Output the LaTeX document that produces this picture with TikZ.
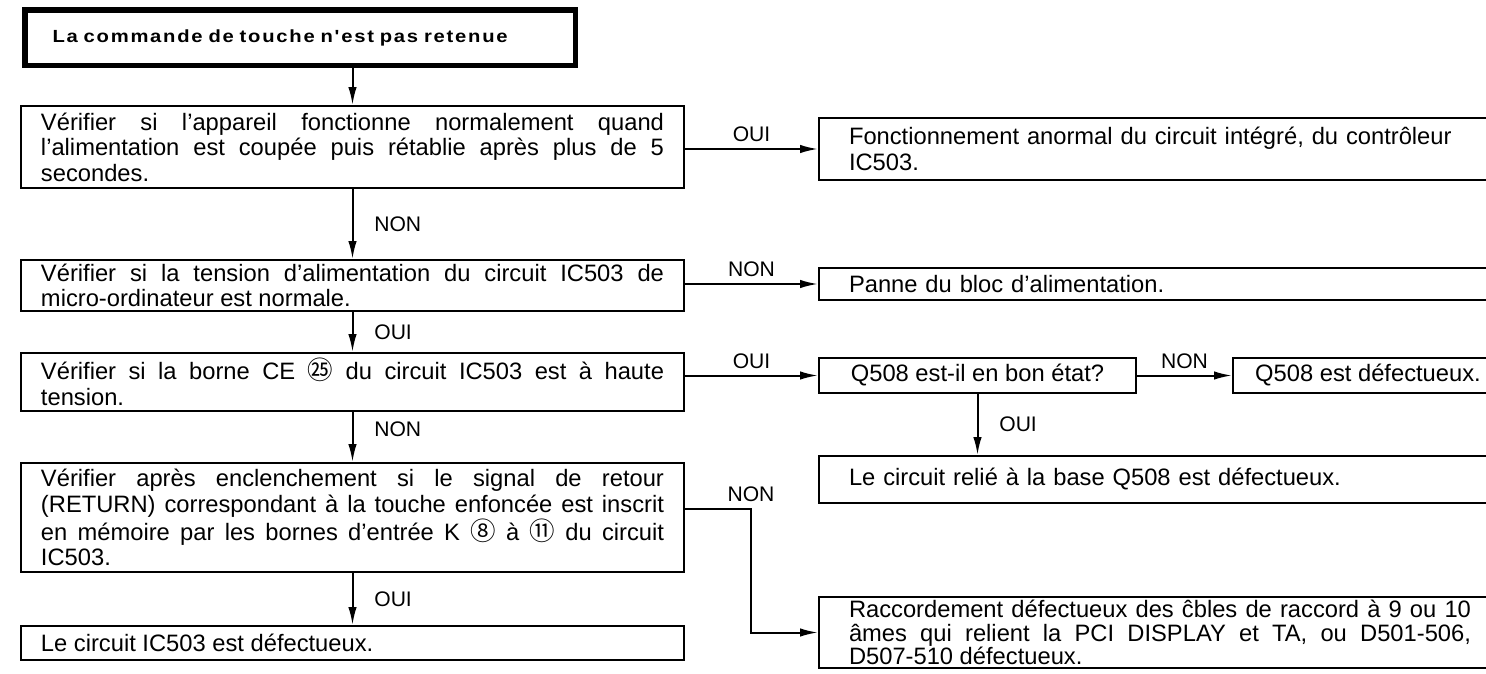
\documentclass[tikz,border=0pt]{standalone}
\usepackage{fontspec}
\setmainfont{Liberation Sans}
\newfontfamily\headfont[LetterSpace=10,FakeStretch=1.15]{Liberation Sans}
\newfontfamily\cjkfont{Noto Sans CJK JP}
\usetikzlibrary{positioning,arrows.meta}
\newcommand{\pinno}[1]{{\cjkfont\fontsize{14.5}{14}\selectfont #1}}

\begin{document}
\begin{tikzpicture}[
    titlebox/.style={rectangle,draw,line width=0.1cm,anchor=north west,minimum width=10.45cm,minimum height=1.1cm,text width=9.9cm,inner xsep=0.55cm,align=left,font=\headfont\bfseries\fontsize{10}{12}\selectfont},
    checkbox/.style={rectangle,draw,line width=0.04cm,text width=12.46cm,inner xsep=0.4cm,inner ysep=0pt,align=justify,font=\fontsize{13.5}{14.5}\selectfont},
    resultbox/.style={rectangle,draw,line width=0.04cm,anchor=north west,text width=12.44cm,inner xsep=0.6cm,inner ysep=0pt,align=left,font=\fontsize{13.5}{14.5}\selectfont},
    smallbox/.style={rectangle,draw,line width=0.04cm,minimum height=0.7cm,inner ysep=0pt,font=\fontsize{13.5}{14.5}\selectfont},
    answer/.style={font=\fontsize{12}{14}\selectfont},
    arrow/.style={-{Latex[length=0.36cm,width=0.17cm]},line width=0.04cm}
]
\useasboundingbox (0,0) rectangle (29.72,-13.48);
\clip (0,0) rectangle (29.72,-13.48);

% Title
\node[titlebox] (title) at (0.45,-0.15) {La commande de touche n'est pas retenue};

% Main column of checks
\node[checkbox,anchor=north west,minimum height=1.64cm] (box1) at (0.4,-2.1) {V\'erifier si l'appareil fonctionne normalement quand\linebreak l'alimentation est coup\'ee puis r\'etablie apr\`es plus de 5\linebreak secondes.};
\node[checkbox,minimum height=1.02cm,below=1.4cm of box1] (box2) {V\'erifier si la tension d'alimentation du circuit IC503 de\linebreak micro-ordinateur est normale.};
\node[checkbox,minimum height=1.16cm,below=0.8cm of box2] (box3) {V\'erifier si la borne CE \pinno{㉕} du circuit IC503 est \`a haute\linebreak tension.};
\node[checkbox,minimum height=2.18cm,below=1.0cm of box3] (box4) {V\'erifier apr\`es enclenchement si le signal de retour\linebreak (RETURN) correspondant \`a la touche enfonc\'ee est inscrit\linebreak en m\'emoire par les bornes d'entr\'ee K \pinno{⑧} \`a \pinno{⑪} du circuit\linebreak IC503.};
\node[checkbox,minimum height=0.68cm,below=1.04cm of box4] (ic-bad) {Le circuit IC503 est d\'efectueux.};

% Results on the right
\node[resultbox,minimum height=1.24cm] (ctrl-bad) at (16.36,-2.34) {Fonctionnement anormal du circuit int\'egr\'e, du contr\^oleur\\IC503.};
\node[resultbox,minimum height=0.64cm] (supply-bad) at (16.36,-5.34) {Panne du bloc d'alimentation.};
\node[smallbox,anchor=north west,minimum width=6.34cm] (q508) at (16.36,-7.14) {Q508 est-il en bon \'etat?};
\node[smallbox,anchor=west,minimum width=5.4cm,right=1.9cm of q508] (q508-bad) {Q508 est d\'efectueux.};
\node[resultbox,minimum height=0.94cm] (base-bad) at (16.36,-9.1) {Le circuit reli\'e \`a la base Q508 est d\'efectueux.};
\node[resultbox,align=justify,minimum height=1.42cm,font=\fontsize{13.5}{13.2}\selectfont] (cable-bad) at (16.36,-11.92) {Raccordement d\'efectueux des ĉbles de raccord \`a 9 ou 10\linebreak \^ames qui relient la PCI DISPLAY et TA, ou D501-506,\linebreak D507-510 d\'efectueux.};

% Main flow
\draw[arrow] (title.south -| box1.north) -- (box1.north);
\draw[arrow] (box1.south) -- node[answer,right=0.3cm] {NON} (box2.north);
\draw[arrow] (box2.south) -- node[answer,right=0.3cm] {OUI} (box3.north);
\draw[arrow] (box3.south) -- node[answer,right=0.3cm,yshift=0.15cm] {NON} (box4.north);
\draw[arrow] (box4.south) -- node[answer,right=0.3cm] {OUI} (ic-bad.north);

% Branches
\draw[arrow] (box1.east |- ctrl-bad.west) -- node[answer,above] {OUI} (ctrl-bad.west);
\draw[arrow] (box2.east |- supply-bad.west) -- node[answer,above] {NON} (supply-bad.west);
\draw[arrow] (box3.east |- q508.west) -- node[answer,above] {OUI} (q508.west);
\draw[arrow] (q508.east) -- node[answer,above] {NON} (q508-bad.west);
\draw[arrow] (q508.south) -- node[answer,right=0.3cm] {OUI} (q508.south |- base-bad.north);
\draw[arrow] ([yshift=0.17cm]box4.east) -- ++(1.32,0) node[answer,above] {NON} |- (cable-bad.west);

\end{tikzpicture}
\end{document}
